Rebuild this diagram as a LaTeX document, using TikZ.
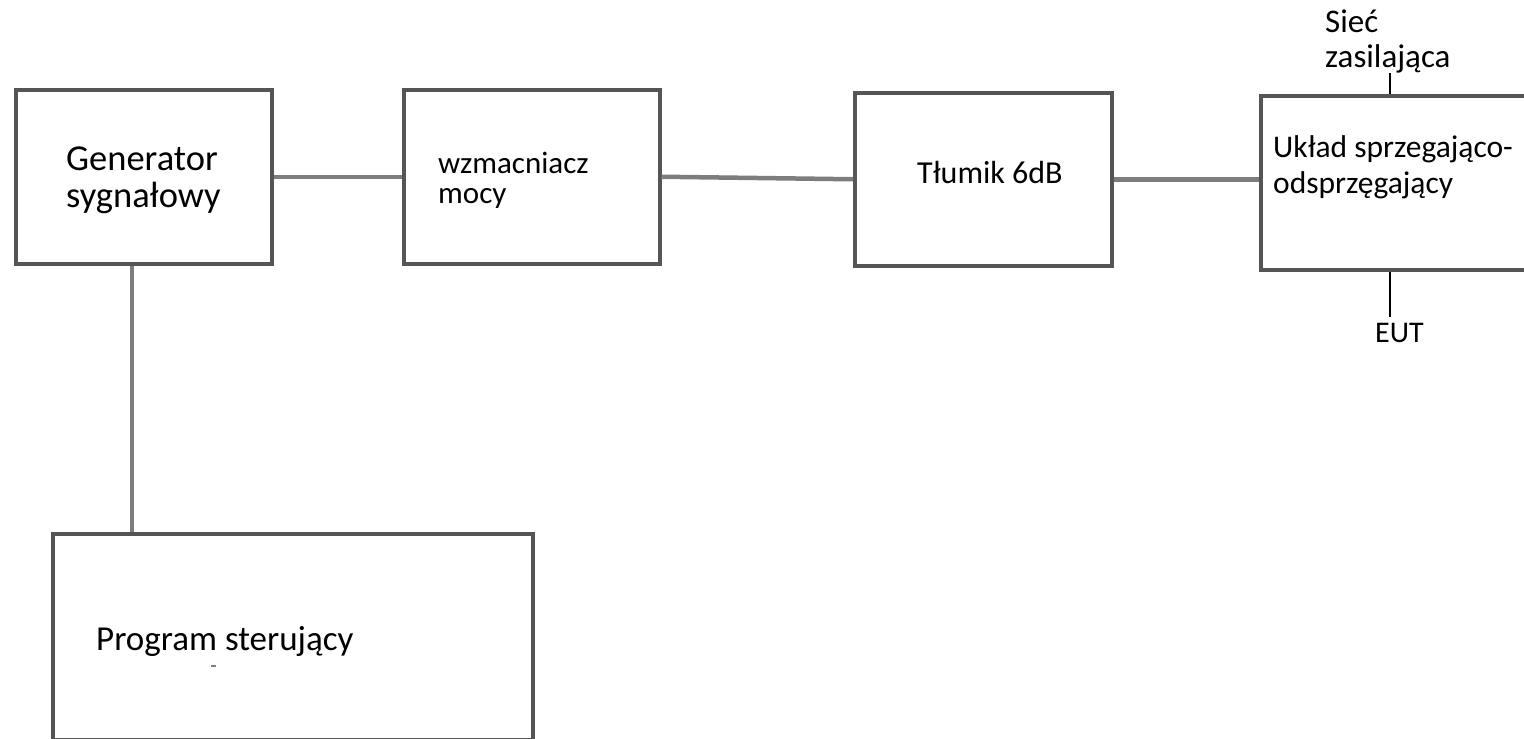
\documentclass[tikz,border=0pt]{standalone}
\usepackage{fontspec}
\setmainfont{Carlito}
\usetikzlibrary{calc}
\definecolor{boxline}{RGB}{85,85,85}
\definecolor{conline}{RGB}{125,125,125}
\tikzset{
  blk/.style={draw=boxline, line width=3.5pt, fill=none, inner sep=0pt, anchor=north west},
  con/.style={draw=conline, line width=4.5pt},
  thin/.style={draw=black, line width=2pt},
  lbl/.style={inner sep=0pt, anchor=base west, text=black},
}
\newcommand{\fs}[1]{\fontsize{#1}{#1}\selectfont}
\begin{document}
\begin{tikzpicture}[x=1pt,y=-1pt]
\useasboundingbox (0,0) rectangle (1524,739);
\clip (0,0) rectangle (1524,739);
% boxes
\node[blk, minimum width=256pt, minimum height=174pt] (gen) at (14,88) {};
\node[blk, minimum width=256pt, minimum height=174pt] (wzm) at (402,88) {};
\node[blk, minimum width=257pt, minimum height=173pt] (tlum) at (853,91) {};
\node[blk, minimum width=300pt, minimum height=174pt] (ukl) at (1259,94) {};
\node[blk, minimum width=480pt, minimum height=205.5pt] (prog) at (51,532) {};
% labels
\node[lbl, font=\fs{36.5}] (gen1) at (66,170) {Generator};
\node[lbl, font=\fs{36.5}] (gen2) at (66,207) {sygnałowy};
\node[lbl, font=\fs{31}] (wzm1) at (438,173) {wzmacniacz};
\node[lbl, font=\fs{31}] (wzm2) at (438,203) {mocy};
\node[lbl, font=\fs{32}] (tlum1) at (917,183) {Tłumik 6dB};
\node[lbl, font=\fs{31.5}] (ukl1) at (1273,157) {Układ sprzegająco-};
\node[lbl, font=\fs{31.5}] (ukl2) at (1273,193) {odsprzęgający};
\node[lbl, font=\fs{33}] (siec1) at (1325,32) {Sieć};
\node[lbl, font=\fs{33}] (siec2) at (1325,67) {zasilająca};
\node[lbl, font=\fs{30}] (eut) at (1375,342) {EUT};
\node[lbl, font=\fs{35}] (prog1) at (96,650) {Program sterujący};
\node[inner sep=0pt, minimum width=5pt, minimum height=2pt, fill=gray] (dash) at (213,666) {};
% connectors
\draw[con] (gen.east) -- (wzm.west);
\draw[con] (wzm.east) -- (tlum.west);
\draw[con] (tlum.east) -- (tlum.east -| ukl.west);
\draw[con] ([xshift=-12pt]gen.south) -- ([xshift=-12pt]gen.south |- prog.north);
\draw[thin] ([xshift=131pt]ukl.north west) -- ([xshift=131pt]ukl.north west |- siec2.south);
\coordinate (eutTop) at ([yshift=6pt]eut.north);
\draw[thin] ([xshift=131pt]ukl.south west) -- ([xshift=131pt]ukl.south west |- eutTop);
\end{tikzpicture}
\end{document}
